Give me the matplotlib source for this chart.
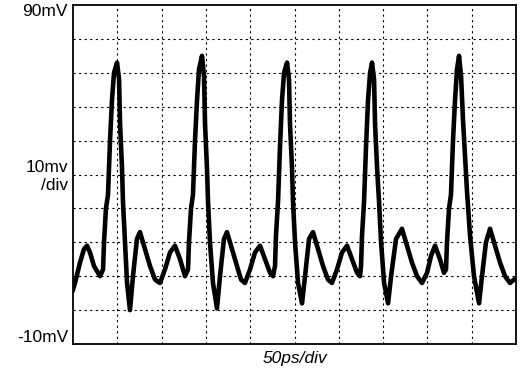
import matplotlib
matplotlib.use('Agg')
import matplotlib.pyplot as plt

# oscilloscope trace, time in ps (50 ps/div), amplitude in mV
t_ps = [0.0, 2.3, 7.9, 12.4, 15.8, 19.2, 23.7, 28.2, 30.5,
        33.9, 35.0, 37.2, 39.5, 41.8, 44.0, 46.3, 49.7, 52.0, 53.1, 55.3, 56.4, 58.7, 61.0,
        64.3, 67.7, 72.2, 75.6, 81.3, 86.9, 92.6, 98.2, 103.8, 109.5, 115.1, 120.8, 126.4,
        129.8, 130.9, 133.2, 135.4, 137.7, 140.0, 142.2, 145.6, 147.9, 149.0, 151.2, 152.4, 154.6, 158.0,
        162.5, 165.9, 170.4, 173.8, 179.5, 185.1, 189.6, 194.1, 199.8, 205.4, 211.1, 216.7, 222.4, 225.7,
        228.0, 229.1, 231.4, 233.6, 235.9, 238.2, 241.6, 243.8, 244.9, 247.2, 248.3, 250.6, 254.0,
        258.5, 261.9, 266.4, 270.9, 276.5, 282.2, 287.8, 292.3, 298.0, 303.6, 309.3, 314.9, 320.6, 323.9,
        325.1, 326.2, 328.5, 330.7, 333.0, 335.3, 337.5, 339.8, 340.9, 343.2, 345.4, 347.7, 351.1,
        355.6, 359.0, 364.6, 371.3, 377.0, 382.6, 388.3, 393.9, 399.6, 404.1, 408.6, 414.2, 418.7,
        421.0, 422.1, 424.4, 426.6, 428.9, 431.2, 433.4, 435.7, 438.0, 440.2, 442.5, 444.7, 448.1, 452.6,
        458.3, 461.6, 466.1, 470.7, 476.3, 482.0, 487.6, 493.2, 497.8]
v_mv = [6, 8, 14, 18, 19, 17, 13, 11, 10,
        12, 20, 30, 34, 50, 62, 70, 73, 68, 55, 42, 32, 20, 8,
        0, 10, 21, 23, 18, 13, 9, 8, 12, 17, 19, 15, 10,
        12, 20, 30, 34, 50, 62, 71, 75, 69, 55, 42, 32, 20, 8,
        0.5, 10, 21, 23, 18, 13, 9, 8, 12, 17, 19, 15, 11, 10,
        13, 22, 32, 48, 62, 70, 73, 68, 55, 42, 32, 20, 8,
        2, 10, 21, 23, 18, 13, 9, 8, 12, 17, 19, 15, 11, 10,
        13, 22, 32, 48, 62, 70, 73, 68, 55, 42, 32, 20, 8,
        2, 10, 21, 24, 19, 14, 10, 8, 11, 16, 19, 15, 11,
        12, 20, 30, 34, 50, 62, 71, 75, 69, 56, 45, 35, 22, 10,
        2, 10, 20, 24, 19, 14, 10, 8, 9]

x_grid = [50, 100, 150, 200, 250, 300, 350, 400, 450]
y_grid = [0, 10, 20, 30, 40, 50, 60, 70, 80]

plt.rcParams['font.family'] = ['Liberation Sans', 'DejaVu Sans']

fig = plt.figure(figsize=(5.22, 3.73), dpi=100)
ax = fig.add_axes([73/522, 29/373, 443/522, 339/373])

for xg in x_grid:
    ax.axvline(xg, color='black', lw=0.8, ls=(0, (2, 3)), zorder=1)
for yg in y_grid:
    ax.axhline(yg, color='black', lw=0.8, ls=(0, (2, 3)), zorder=1)

ax.plot(t_ps, v_mv, color='black', lw=3.3, solid_joinstyle='round', zorder=3)

ax.set_xlim(0, 500)
ax.set_ylim(-10, 90)
ax.set_xticks([])
ax.set_yticks([])
for s in ax.spines.values():
    s.set_linewidth(1.3)

fs = 12.5
fig.text(68/522, 1 - 11.5/373, '90mV', ha='right', va='center', fontsize=fs)
fig.text(68/522, 1 - 337/373, '-10mV', ha='right', va='center', fontsize=fs)
fig.text(68/522, 1 - 172/373, '10mv', ha='right', va='baseline', fontsize=fs)
fig.text(68/522, 1 - 190/373, '/div', ha='right', va='baseline', fontsize=fs)
fig.text(294.5/522, 1 - 358/373, '50ps/div', ha='center', va='center',
         fontsize=fs, style='italic')

plt.savefig('out.png', dpi=100)
